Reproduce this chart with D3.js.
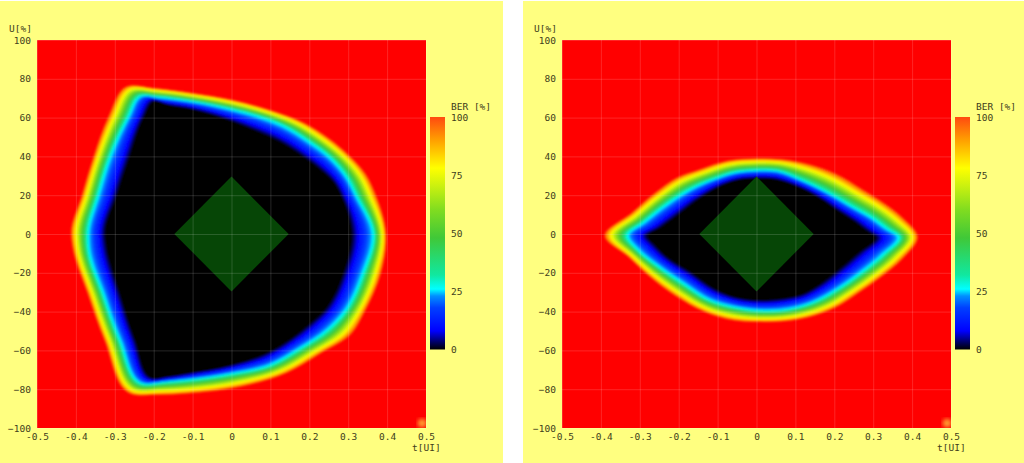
<!DOCTYPE html>
<html>
<head>
<meta charset="utf-8">
<script src="https://cdn.jsdelivr.net/npm/d3@7"></script>
<style>
html, body { margin: 0; padding: 0; background: #fff; overflow: hidden; }
text { font-family: "DejaVu Sans Mono", monospace; font-size: 9.5px; fill: #40401c; }
</style>
</head>
<body>
<svg id="chart" width="1024" height="463"></svg>
<script>
// contours, [t, U], same vertex count per eye
// inner = where BER leaves 0, mid = cyan ridge, outer = where it hits 100
var leftInner = [[-.325,0],[-.295,20],[-.262,40],[-.226,60],[-.2,68.5],[-.16,66.5],[-.1,64.3],[0,58.3],[.06,53.5],[.125,47.6],[.198,38],[.23,33],[.262,27],[.284,19],[.309,0],[.288,-20],[.237,-40],[.195,-47.5],[.154,-54],[.09,-61.6],[0,-67.6],[-.116,-72],[-.16,-73.5],[-.203,-74.5],[-.248,-54.8],[-.287,-30.8],[-.321,-6.8]];
var leftMid = [[-.369,0],[-.343,20],[-.312,40],[-.266,60],[-.234,71],[-.19,70.5],[-.1,68.2],[0,64.2],[.07,60.5],[.13,56],[.2,47.5],[.25,40],[.3,28],[.32,20],[.365,0],[.339,-20],[.292,-40],[.25,-49],[.176,-59],[.099,-67.6],[0,-72],[-.116,-75.3],[-.17,-76.3],[-.231,-77],[-.287,-54.8],[-.33,-30.8],[-.368,-6.8]];
var leftOuter = [[-.413,0],[-.385,20],[-.355,40],[-.318,60],[-.271,76],[-.2,75.3],[-.1,72.7],[0,69.3],[.1,63.9],[.19,57],[.253,49],[.303,40.5],[.347,30.5],[.372,20],[.398,0],[.385,-20],[.342,-40.5],[.313,-50.5],[.23,-61.5],[.144,-71.5],[.03,-78.5],[-.116,-82.3],[-.19,-83],[-.259,-82.5],[-.327,-54.8],[-.37,-30.8],[-.409,-6.8]];

var rightInner = [[-.281,-1],[-.247,3.4],[-.2,10.3],[-.144,18.8],[-.084,25.6],[-.041,28.2],[0,28.7],[.049,28.2],[.1,25],[.147,20.5],[.199,13.5],[.25,6.8],[.284,1.7],[.306,-1.4],[.259,-10.3],[.199,-20.5],[.156,-27],[.113,-31.6],[.07,-33.3],[0,-34.2],[-.058,-32.5],[-.11,-28.2],[-.17,-19.7],[-.23,-12],[-.26,-6]];
var rightMid = [[-.332,-1],[-.29,6],[-.23,15.4],[-.17,23],[-.11,28.2],[-.058,31.6],[0,32.8],[.053,32.5],[.113,28],[.182,21.4],[.242,14.5],[.302,7.7],[.336,2.6],[.366,-1.4],[.327,-10.3],[.276,-18.8],[.216,-27.4],[.147,-35],[.087,-38.5],[0,-39.3],[-.058,-37.6],[-.118,-34.2],[-.187,-25.6],[-.255,-16.2],[-.307,-7.7]];
var rightOuter = [[-.391,-1],[-.321,11],[-.261,21.3],[-.206,29],[-.147,33.3],[-.075,37.8],[0,39],[.062,38.6],[.135,36],[.205,31],[.273,23],[.333,15.3],[.376,8.5],[.415,-1.4],[.376,-12.8],[.325,-21.5],[.265,-30],[.205,-37.8],[.135,-42.9],[0,-45.4],[-.058,-44.6],[-.133,-40.3],[-.21,-31.8],[-.278,-21.5],[-.33,-11.8]];

var maskPts = [[-.147,0],[0,29.6],[.147,0],[0,-29.6]];
var cornerSpot = [.49,-97.5];

var timeTicks = [-.5,-.4,-.3,-.2,-.1,0,.1,.2,.3,.4,.5];
var voltTicks = [-100,-80,-60,-40,-20,0,20,40,60,80,100];
var berTicks = [0,25,50,75,100];
var berStops = [0,8,18,23,26,32,48,60,70,78,90,100];
var berColors = ['#000000','#0000ff','#0040ff','#0090ff','#00ffff','#10e8a0','#40c838','#80dc20','#c8f010','#ffff00','#ffa000','#ff4a10'];

var color = d3.scaleLinear().domain(berStops).range(berColors);

var svg = d3.select('#chart');
var defs = svg.append('defs');
defs.append('filter').attr('id', 'soft').append('feGaussianBlur').attr('stdDeviation', 0.9);
defs.append('filter').attr('id', 'softer').append('feGaussianBlur').attr('stdDeviation', 2);

var gradient = defs.append('linearGradient').attr('id', 'berBar').attr('x1', 0).attr('y1', 1).attr('x2', 0).attr('y2', 0);
gradient.selectAll('stop').data(berStops).join('stop')
  .attr('offset', function(d) { return d / 100; })
  .attr('stop-color', function(d) { return color(d); });

function ringAt(k, inner, mid, outer) {
  // k is BER %, walks from the inner contour through the cyan one to the outer
  var a = k <= 26 ? inner : mid, b = k <= 26 ? mid : outer;
  var f = k <= 26 ? k / 26 : (k - 26) / 74;
  return a.map(function(p, i) { return [p[0] + (b[i][0] - p[0]) * f, p[1] + (b[i][1] - p[1]) * f]; });
}

function drawPanel(id, off, panelX, panelW, inner, mid, outer) {
  svg.append('rect').attr('x', panelX).attr('y', 1).attr('width', panelW).attr('height', 462).attr('fill', '#ffff80');

  var x = d3.scaleLinear().domain([-.5,.5]).range([37 + off, 426 + off]);
  var y = d3.scaleLinear().domain([-100,100]).range([428, 40]);
  var line = d3.line().x(function(d) { return x(d[0]); }).y(function(d) { return y(d[1]); }).curve(d3.curveCatmullRomClosed.alpha(1));

  defs.append('clipPath').attr('id', 'clip' + id).append('rect')
    .attr('x', x(-.5)).attr('y', y(100)).attr('width', x(.5) - x(-.5)).attr('height', y(-100) - y(100));

  var plot = svg.append('g').attr('clip-path', 'url(#clip' + id + ')');
  plot.append('rect').attr('x', x(-.5)).attr('y', y(100)).attr('width', x(.5) - x(-.5)).attr('height', y(-100) - y(100)).attr('fill', '#ff0000');

  var heat = plot.append('g').attr('filter', 'url(#soft)');
  heat.selectAll('path').data(d3.range(100, -1, -1)).join('path')
    .attr('d', function(k) { return line(ringAt(k, inner, mid, outer)); })
    .attr('fill', function(k) { return k == 100 ? '#ff1000' : color(k); });
  plot.append('circle').attr('filter', 'url(#softer)').attr('cx', x(cornerSpot[0])).attr('cy', y(cornerSpot[1])).attr('r', 4.5).attr('fill', '#ffa030');

  // eye mask
  plot.append('path').attr('d', d3.line().x(function(d) { return x(d[0]); }).y(function(d) { return y(d[1]); })(maskPts) + 'Z').attr('fill', '#064606');

  // axes, ticks double as the grid
  var xAxis = svg.append('g').attr('transform', 'translate(0,428)')
    .call(d3.axisBottom(x).tickValues(timeTicks).tickSizeInner(-388).tickSizeOuter(0).tickPadding(5).tickFormat(function(d) { return d; }));
  var yAxis = svg.append('g').attr('transform', 'translate(' + (37 + off) + ',0)')
    .call(d3.axisLeft(y).tickValues(voltTicks).tickSizeInner(-389).tickSizeOuter(0).tickPadding(6));
  [xAxis, yAxis].forEach(function(a) {
    a.select('.domain').remove();
    a.selectAll('line').attr('stroke', 'rgba(255,255,255,.15)');
    a.selectAll('text').style('font-family', '"DejaVu Sans Mono", monospace').style('font-size', '9.5px').attr('fill', '#40401c');
  });

  svg.append('text').attr('x', 9 + off).attr('y', 32).text('U[%]');
  svg.append('text').attr('x', 412 + off).attr('y', 451).text('t[UI]');

  // colour bar
  var bar = d3.scaleLinear().domain([0,100]).range([349.5, 117]);
  svg.append('rect').attr('x', 430 + off).attr('width', 15).attr('y', bar(100)).attr('height', bar(0) - bar(100)).attr('fill', 'url(#berBar)');
  var barAxis = svg.append('g').attr('transform', 'translate(' + (445 + off) + ',0)')
    .call(d3.axisRight(bar).tickValues(berTicks).tickSize(0).tickPadding(6));
  barAxis.select('.domain').remove();
  barAxis.selectAll('text').style('font-family', '"DejaVu Sans Mono", monospace').style('font-size', '9.5px').attr('fill', '#40401c');
  svg.append('text').attr('x', 451 + off).attr('y', 110).text('BER [%]');
}

drawPanel('a', 0, 0, 503, leftInner, leftMid, leftOuter);
drawPanel('b', 525, 523, 501, rightInner, rightMid, rightOuter);
</script>
</body>
</html>
